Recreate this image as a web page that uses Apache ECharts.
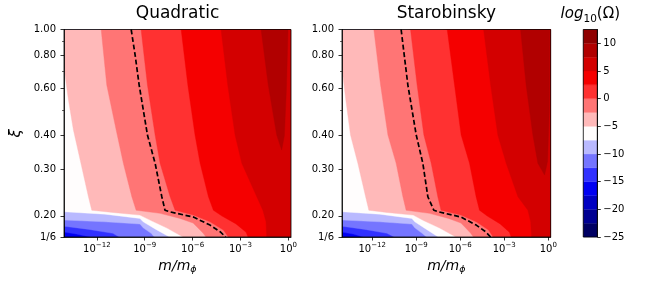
<!DOCTYPE html>
<html><head><meta charset="utf-8">
<script src="https://cdn.jsdelivr.net/npm/echarts@6/dist/echarts.min.js"></script>
<style>html,body{margin:0;padding:0;background:#fff}#c{width:648px;height:297px}</style>
</head><body><div id="c"></div>
<script>
// ---------- data ----------
const X_RANGE = [-14.06, 0.165];          // log10(m/m_phi)
const XI_RANGE = [1/6, 1];
const X_TICKS = [-12, -9, -6, -3, 0];
const XI_TICKS = [1/6, 0.2, 0.3, 0.4, 0.6, 0.8, 1.0];
const XI_TICK_LABELS = ['1/6', '0.20', '0.30', '0.40', '0.60', '0.80', '1.00'];
const XI_MINOR_TICKS = [0.5, 0.7, 0.9];
const LEVELS = [-25, -22.5, -20, -17.5, -15, -12.5, -10, -7.5, -5, -2.5, 0, 2.5, 5, 7.5, 10, 12.5];
const CBAR_TICKS = [-25, -20, -15, -10, -5, 0, 5, 10];
const BAND_COLORS = ['#000063', '#000092', '#0000c2', '#0000f2', '#3131ff', '#7575ff', '#b9b9ff', '#fffdfd',
                     '#ffb9b9', '#ff7575', '#ff3131', '#f50000', '#d30000', '#b10000', '#8f0000'];

// contour boundaries [log10(m/m_phi), xi]; values above the level lie to the right
const Q_BASE = [[-14.1, 1/6]];
const Q_M15 = [[-14.1, 0.174], [-13.3, 0.171], [-12.4, 1/6]];
const Q_M12_5 = [[-14.1, 0.183], [-12.5, 0.178], [-11.0, 0.172], [-10.6, 1/6]];
const Q_M10 = [[-14.1, 0.193], [-11.5, 0.19], [-9.3, 0.1864], [-9.1, 0.1804], [-8.6, 0.172], [-8.4, 1/6]];
const Q_M7_5 = [[-14.1, 0.2073], [-11.5, 0.203], [-9.3, 0.1957], [-9.1, 0.190], [-8.3, 0.178], [-7.45, 1/6]];
const Q_M5 = [[-14.1, 0.75], [-13.78, 0.544], [-13.47, 0.42], [-13.0, 0.315], [-12.53, 0.236], [-12.32, 0.21], [-11.0, 0.206], [-9.3, 0.2014], [-8.6, 0.192], [-7.6, 0.18], [-6.6, 1/6]];
const Q_M2_5 = [[-11.73, 1.0], [-11.38, 0.619], [-10.79, 0.42], [-10.34, 0.315], [-9.81, 0.236], [-9.54, 0.21], [-8.04, 0.2044], [-6.79, 0.1957], [-5.97, 0.188], [-5.35, 0.1725], [-5.16, 1/6]];
const Q_0 = [[-9.23, 1.0], [-8.83, 0.619], [-8.35, 0.402], [-8.04, 0.315], [-7.41, 0.236], [-7.10, 0.21], [-5.95, 0.2014], [-4.91, 0.19], [-4.07, 0.177], [-3.76, 1/6]];
const Q_2_5 = [[-6.72, 1.0], [-6.30, 0.619], [-5.85, 0.402], [-5.53, 0.315], [-5.01, 0.236], [-4.70, 0.21], [-4.16, 0.1997], [-3.28, 0.1866], [-2.65, 0.1737], [-2.53, 1/6]];
const Q_5 = [[-4.22, 1.0], [-3.80, 0.619], [-3.34, 0.402], [-2.92, 0.315], [-1.98, 0.236], [-1.6, 0.21], [-1.4, 0.19], [-1.36, 1/6]];
const Q_7_5 = [[-1.71, 1.0], [-1.26, 0.619], [-0.73, 0.402], [-0.42, 0.353], [-0.25, 0.40], [-0.12, 0.6], [-0.02, 1.0]];
const Q_DASH = [[-9.85, 1.0], [-9.6, 0.8], [-9.35, 0.619], [-8.83, 0.402], [-8.35, 0.315], [-7.93, 0.236], [-7.73, 0.21], [-7.41, 0.207], [-5.95, 0.198], [-4.91, 0.1847], [-4.28, 0.1745], [-3.93, 1/6]];

const S_BASE = [[-14.1, 1/6]];
const S_M15 = [[-14.1, 0.174], [-13.3, 0.171], [-12.6, 1/6]];
const S_M12_5 = [[-14.1, 0.183], [-12.5, 0.178], [-11.0, 0.172], [-10.5, 1/6]];
const S_M10 = [[-14.1, 0.193], [-11.5, 0.19], [-9.3, 0.1864], [-9.1, 0.1804], [-8.6, 0.172], [-8.3, 1/6]];
const S_M7_5 = [[-14.1, 0.2073], [-11.5, 0.203], [-9.3, 0.1957], [-9.1, 0.190], [-8.3, 0.178], [-7.5, 1/6]];
const S_M5 = [[-14.1, 0.75], [-13.8, 0.544], [-13.48, 0.402], [-12.98, 0.315], [-12.45, 0.236], [-12.23, 0.21], [-11.0, 0.206], [-9.2, 0.2014], [-8.5, 0.192], [-7.4, 0.18], [-6.3, 1/6]];
const S_M2_5 = [[-11.89, 1.0], [-11.43, 0.619], [-10.93, 0.402], [-10.37, 0.315], [-9.91, 0.236], [-9.69, 0.21], [-8.1, 0.2044], [-6.8, 0.1957], [-5.95, 0.188], [-5.3, 0.1725], [-5.1, 1/6]];
const S_0 = [[-9.39, 1.0], [-8.94, 0.619], [-8.48, 0.402], [-7.98, 0.315], [-7.53, 0.236], [-7.31, 0.21], [-5.95, 0.2014], [-4.91, 0.19], [-4.07, 0.177], [-3.76, 1/6]];
const S_2_5 = [[-6.89, 1.0], [-6.39, 0.619], [-5.94, 0.402], [-5.37, 0.315], [-4.92, 0.236], [-4.69, 0.21], [-4.16, 0.1997], [-3.28, 0.1866], [-2.65, 0.1737], [-2.53, 1/6]];
const S_5 = [[-4.41, 1.0], [-3.93, 0.619], [-3.44, 0.402], [-2.87, 0.315], [-2.07, 0.236], [-1.39, 0.21], [-1.2, 0.19], [-1.14, 1/6]];
const S_7_5 = [[-1.89, 1.0], [-1.51, 0.619], [-1.05, 0.402], [-0.71, 0.315], [-0.25, 0.2845], [-0.05, 0.32], [0.07, 0.5], [0.1, 1.0]];
const S_DASH = [[-10.03, 1.0], [-9.57, 0.619], [-9.0, 0.402], [-8.55, 0.315], [-8.21, 0.236], [-7.8, 0.21], [-7.45, 0.207], [-5.95, 0.198], [-4.91, 0.1847], [-4.28, 0.1745], [-3.93, 1/6]];

const QUAD_LEVELS = [[-17.5, Q_BASE], [-15, Q_M15], [-12.5, Q_M12_5], [-10, Q_M10], [-7.5, Q_M7_5], [-5, Q_M5], [-2.5, Q_M2_5], [0, Q_0], [2.5, Q_2_5], [5, Q_5], [7.5, Q_7_5]];
const STARO_LEVELS = [[-17.5, S_BASE], [-15, S_M15], [-12.5, S_M12_5], [-10, S_M10], [-7.5, S_M7_5], [-5, S_M5], [-2.5, S_M2_5], [0, S_0], [2.5, S_2_5], [5, S_5], [7.5, S_7_5]];

// ---------- chart ----------
const FONT = 'DejaVu Sans';
const TICK_FS = 10;
const L10 = Math.log10;
const Y_MIN = L10(XI_RANGE[0]), Y_MAX = L10(XI_RANGE[1]);

function xiLabel(v) {
  let best = 0, bd = 1e9;
  XI_TICKS.forEach((t, i) => { const d = Math.abs(L10(t) - v); if (d < bd) { bd = d; best = i; } });
  return XI_TICK_LABELS[best];
}
function expLabel(v) {
  const n = Math.round(v);
  return '{b|10}{s|' + (n < 0 ? '\u2212' + (-n) : String(n)) + '}';
}
const AX_LINE = { show: true, onZero: false, lineStyle: { color: '#000', width: 0.8 } };
const TICK_STYLE = { color: '#000', width: 0.8 };

function xMain(gi) {
  return {
    gridIndex: gi, type: 'value', min: X_RANGE[0], max: X_RANGE[1], position: 'bottom', z: 10,
    axisLine: AX_LINE,
    axisTick: { show: true, customValues: X_TICKS, length: 3.5, lineStyle: TICK_STYLE },
    axisLabel: { customValues: X_TICKS, formatter: expLabel, margin: 5,
      rich: { b: { fontFamily: FONT, fontSize: TICK_FS, color: '#000', lineHeight: 12, verticalAlign: 'bottom' },
              s: { fontFamily: FONT, fontSize: 7, color: '#000', lineHeight: 4, verticalAlign: 'top' } } },
    splitLine: { show: false },
    name: '{i|m/m}{sub|\u03d5}', nameLocation: 'middle', nameGap: 11,
    nameTextStyle: { rich: {
      i: { fontFamily: FONT, fontSize: 14, fontStyle: 'italic', color: '#000', lineHeight: 16, verticalAlign: 'top' },
      sub: { fontFamily: FONT, fontSize: 9.5, fontStyle: 'italic', color: '#000', lineHeight: 6, verticalAlign: 'bottom' } } }
  };
}
function yMain(gi, withName) {
  const o = {
    gridIndex: gi, type: 'value', min: Y_MIN, max: Y_MAX, position: 'left', z: 10,
    axisLine: AX_LINE,
    axisTick: { show: true, customValues: XI_TICKS.map(L10), length: 3.5, lineStyle: TICK_STYLE },
    axisLabel: { customValues: XI_TICKS.map(L10), formatter: xiLabel, margin: 8, fontFamily: FONT, fontSize: TICK_FS, color: '#000' },
    splitLine: { show: false }
  };
  if (withName) {
    Object.assign(o, { name: '\u03be', nameLocation: 'middle', nameGap: 40, nameRotate: 90,
      nameTextStyle: { fontFamily: FONT, fontSize: 15, fontStyle: 'italic', color: '#000' } });
  }
  return o;
}
function yMinor(gi) {
  return { gridIndex: gi, type: 'value', min: Y_MIN, max: Y_MAX, position: 'left', z: 10,
    axisLine: { show: false, onZero: false },
    axisTick: { show: true, customValues: XI_MINOR_TICKS.map(L10), length: 2, lineStyle: { color: '#000', width: 0.6 } },
    axisLabel: { show: false }, splitLine: { show: false } };
}

function contourSeries(gi, levels) {
  return {
    type: 'custom', xAxisIndex: gi, yAxisIndex: gi, clip: true, silent: true, z: 2,
    encode: { x: 0, y: 1 },
    data: levels.map((lv, i) => [X_RANGE[0], Y_MIN, i]),
    renderItem: (params, api) => {
      const i = api.value(2);
      const lv = levels[i];
      const pts = lv[1].map(p => api.coord([p[0], L10(p[1])]));
      const last = lv[1][lv[1].length - 1];
      if (last[1] < XI_RANGE[1]) {
        pts.push(api.coord([X_RANGE[1] + 0.5, Y_MIN - 0.05]), api.coord([X_RANGE[1] + 0.5, Y_MAX + 0.05]),
                 api.coord([X_RANGE[0] - 0.5, Y_MAX + 0.05]));
      }
      const color = BAND_COLORS[LEVELS.indexOf(lv[0])];
      return { type: 'polygon', z2: i, shape: { points: pts }, style: { fill: color, stroke: color, lineWidth: 0.4 } };
    }
  };
}
function dashSeries(gi, pts) {
  return { type: 'line', xAxisIndex: gi, yAxisIndex: gi, z: 5, silent: true, symbol: 'none', clip: true,
    data: pts.map(p => [p[0], L10(p[1])]),
    lineStyle: { color: '#000', width: 1.7, type: [5, 2.6] } };
}

const option = {
  animation: false,
  backgroundColor: '#fff',
  grid: [
    { left: 64, top: 29.5, width: 227, height: 207.5, show: true, backgroundColor: 'transparent', borderColor: '#000', borderWidth: 0.8, z: 10 },
    { left: 342, top: 29.5, width: 208.7, height: 207.5, show: true, backgroundColor: 'transparent', borderColor: '#000', borderWidth: 0.8, z: 10 },
    { left: 583.3, top: 29.5, width: 14, height: 207.5, show: true, backgroundColor: 'transparent', borderColor: '#000', borderWidth: 0.8, z: 10 }
  ],
  xAxis: [
    xMain(0), xMain(1),
    { gridIndex: 2, type: 'value', min: 0, max: 1, show: false }
  ],
  yAxis: [
    yMain(0, true), yMain(1, false),
    { gridIndex: 2, type: 'value', min: LEVELS[0], max: LEVELS[LEVELS.length - 1], position: 'right', z: 10,
      axisLine: AX_LINE,
      axisTick: { show: true, customValues: CBAR_TICKS, length: 3.5, lineStyle: TICK_STYLE },
      axisLabel: { customValues: CBAR_TICKS, margin: 6, fontFamily: FONT, fontSize: TICK_FS, color: '#000',
        formatter: v => (v < 0 ? '\u2212' + (-v) : String(v)) },
      splitLine: { show: false } },
    yMinor(0), yMinor(1)
  ],
  series: [
    contourSeries(0, QUAD_LEVELS),
    contourSeries(1, STARO_LEVELS),
    dashSeries(0, Q_DASH),
    dashSeries(1, S_DASH),
    { type: 'custom', xAxisIndex: 2, yAxisIndex: 2, silent: true, encode: { x: 0, y: 1 },
      data: BAND_COLORS.map((c, i) => [0, LEVELS[i], i]),
      renderItem: (params, api) => {
        const i = api.value(2);
        const p0 = api.coord([0, LEVELS[i]]);
        const p1 = api.coord([1, LEVELS[i + 1]]);
        return { type: 'rect', shape: { x: p0[0], y: p1[1], width: p1[0] - p0[0], height: p0[1] - p1[1] },
          style: { fill: BAND_COLORS[i], stroke: BAND_COLORS[i], lineWidth: 0.3 } };
      } }
  ],
  graphic: [
    { type: 'text', x: 177.5, y: 13.5, z: 20,
      style: { text: 'Quadratic', fill: '#000', font: '17px "DejaVu Sans"', align: 'center', verticalAlign: 'middle', textAlign: 'center', textVerticalAlign: 'middle' } },
    { type: 'text', x: 446.3, y: 13.5, z: 20,
      style: { text: 'Starobinsky', fill: '#000', font: '17px "DejaVu Sans"', align: 'center', verticalAlign: 'middle', textAlign: 'center', textVerticalAlign: 'middle' } },
    { type: 'text', x: 590.3, y: 6.5, z: 20,
      style: { text: '{i|log}{s|10}{n|(\u03a9)}', align: 'center', verticalAlign: 'top', textAlign: 'center', textVerticalAlign: 'top',
        rich: {
          i: { fontFamily: FONT, fontSize: 15, fontStyle: 'italic', fill: '#000', color: '#000', lineHeight: 18, verticalAlign: 'top' },
          s: { fontFamily: FONT, fontSize: 10.5, fill: '#000', color: '#000', lineHeight: 6, verticalAlign: 'bottom' },
          n: { fontFamily: FONT, fontSize: 15, fill: '#000', color: '#000', lineHeight: 18, verticalAlign: 'top' } } } }
  ]
};

const chart = echarts.init(document.getElementById('c'), null, { renderer: 'canvas', width: 648, height: 297 });
chart.setOption(option);
</script>
</body></html>
